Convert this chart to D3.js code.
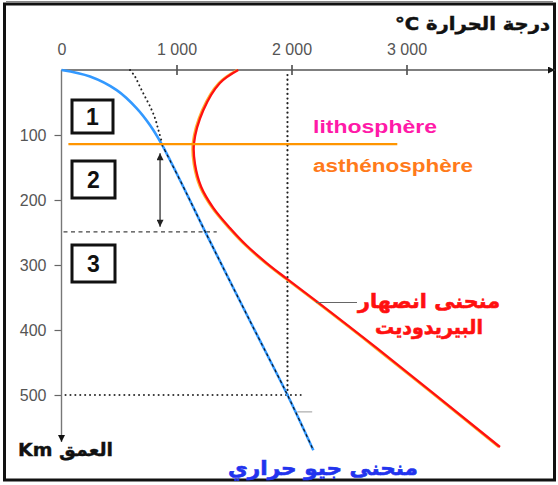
<!DOCTYPE html>
<html><head><meta charset="utf-8">
<script src="https://cdn.jsdelivr.net/npm/d3@7"></script>
<style>
html,body{margin:0;padding:0;background:#fff;}
svg{display:block;}
</style></head>
<body>
<svg id="chart" width="558" height="485"></svg>
<script>
// ---- data ----
const xTicks = [0, 1000, 2000, 3000];
const xTickLabels = ["0", "1 000", "2 000", "3 000"];
const yTicks = [100, 200, 300, 400, 500];
const yTickLabels = ["100", "200", "300", "400", "500"];

// geotherm (blue)
const geoTemp  = [0, 248, 480, 654, 770, 871, 1060, 1250, 1650, 1965, 2190];
const geoDepth = [0, 10, 31, 59, 85, 114, 180, 249, 390, 500, 585];
// dotted black curve (joins the geotherm)
const adiaTemp  = [596, 639, 683, 726, 770, 813, 842, 871];
const adiaDepth = [0, 10, 26, 41, 56, 74, 92, 110];
// peridotite solidus (red)
const solTemp  = [1537, 1378, 1233, 1152, 1161, 1215, 1320, 1465, 1610, 1784, 1958, 2219, 2743, 3813];
const solDepth = [0, 20, 62, 113, 145, 180, 212, 243, 270, 297, 321, 356, 428, 580];

const lithoDepth = 114;      // lithosphere / asthenosphere boundary
const lithoTempEnd = 2920;
const zoneDepth = 249;       // base of zone 2
const zoneTempEnd = 1350;
const arrowTemp = 857;
const arrowDepth = [128, 241];
const refTemp = 1965, refDepth = 500;

// ---- scales ----
const svg = d3.select("#chart");
const x = d3.scaleLinear().domain([0, 3000]).range([61.5, 406.5]);
const y = d3.scaleLinear().domain([0, 500]).range([70, 395]);

const defs = svg.append("defs");
defs.append("marker").attr("id","arrBlack").attr("viewBox","0 0 10 10")
  .attr("refX",10).attr("refY",5).attr("markerWidth",10).attr("markerHeight",7)
  .attr("markerUnits","userSpaceOnUse").attr("orient","auto")
  .append("path").attr("d","M0,0 L10,5 L0,10 z").attr("fill","#111");
defs.append("marker").attr("id","arrSmall").attr("viewBox","0 0 10 10")
  .attr("refX",10).attr("refY",5).attr("markerWidth",8).attr("markerHeight",7)
  .attr("markerUnits","userSpaceOnUse").attr("orient","auto-start-reverse")
  .append("path").attr("d","M0,0 L10,5 L0,10 z").attr("fill","#222");

// frame
svg.append("rect").attr("x",4.5).attr("y",4).attr("width",550).attr("height",476)
  .attr("fill","none").attr("stroke","#111").attr("stroke-width",3);
svg.append("line").attr("x1",6).attr("x2",553).attr("y1",1.5).attr("y2",1.5)
  .attr("stroke","#888").attr("stroke-width",1);

// reference dotted lines
svg.append("line").attr("x1",x(refTemp)).attr("x2",x(refTemp)).attr("y1",y(0)+5).attr("y2",y(refDepth))
  .attr("stroke","#222").attr("stroke-width",2.2).attr("stroke-dasharray","0.1,4.6").attr("stroke-linecap","round");
svg.append("line").attr("x1",x(0)+4).attr("x2",x(2080)).attr("y1",y(refDepth)).attr("y2",y(refDepth))
  .attr("stroke","#333").attr("stroke-width",2).attr("stroke-dasharray","0.1,4.8").attr("stroke-linecap","round");
svg.append("line").attr("x1",x(2050)).attr("x2",x(2180)).attr("y1",y(526)).attr("y2",y(526))
  .attr("stroke","#999").attr("stroke-width",1);

// x axis
const xAxis = d3.axisTop(x).tickValues(xTicks).tickFormat((d,i)=>xTickLabels[i]).tickSize(5).tickPadding(10);
const gx = svg.append("g").attr("transform",`translate(0,${y(0)})`).call(xAxis);
gx.select(".domain").remove();
gx.selectAll(".tick line").attr("y1",-5).attr("y2",5).attr("stroke","#333").attr("stroke-width",1.4);
gx.selectAll(".tick").filter(d=>d===0).select("line").remove();
gx.selectAll(".tick text").attr("font-family","Liberation Sans, Arial, sans-serif")
  .attr("font-size",16).attr("fill","#555");
svg.append("line").attr("x1",x(0)).attr("x2",555).attr("y1",y(0)).attr("y2",y(0))
  .attr("stroke","#555").attr("stroke-width",1.3).attr("marker-end","url(#arrBlack)");

// y axis
const yAxis = d3.axisLeft(y).tickValues(yTicks).tickFormat((d,i)=>yTickLabels[i]).tickSize(7).tickPadding(8);
const gy = svg.append("g").attr("transform",`translate(${x(0)},0)`).call(yAxis);
gy.select(".domain").remove();
gy.selectAll(".tick line").attr("stroke","#666").attr("stroke-width",1.2);
gy.selectAll(".tick text").attr("font-family","Liberation Sans, Arial, sans-serif")
  .attr("font-size",16).attr("fill","#555");
svg.append("line").attr("x1",x(0)).attr("x2",x(0)).attr("y1",y(0)).attr("y2",442)
  .attr("stroke","#777").attr("stroke-width",1.4).attr("marker-end","url(#arrBlack)");

// zone 2 base dashed line
svg.append("line").attr("x1",x(0)+2).attr("x2",x(zoneTempEnd)).attr("y1",y(zoneDepth)).attr("y2",y(zoneDepth))
  .attr("stroke","#444").attr("stroke-width",1.2).attr("stroke-dasharray","4,3.5");
// double arrow
svg.append("line").attr("x1",x(arrowTemp)).attr("x2",x(arrowTemp)).attr("y1",y(arrowDepth[0])).attr("y2",y(arrowDepth[1]))
  .attr("stroke","#333").attr("stroke-width",1.3)
  .attr("marker-start","url(#arrSmall)").attr("marker-end","url(#arrSmall)");

const line = d3.line().x(d=>x(d[0])).y(d=>y(d[1])).curve(d3.curveCatmullRom.alpha(0.5));

// solidus (red)
const solData = solTemp.map((t,i)=>[t, solDepth[i]]);
svg.append("path").datum(solData).attr("d",line).attr("fill","none")
  .attr("stroke","#ffb030").attr("stroke-width",2.4).attr("transform","translate(-1.2,0)");
svg.append("path").datum(solData).attr("d",line).attr("fill","none")
  .attr("stroke","#ff1010").attr("stroke-width",2.3);

// geotherm (blue)
const geoData = geoTemp.map((t,i)=>[t, geoDepth[i]]);
svg.append("path").datum(geoData).attr("d",line).attr("fill","none")
  .attr("stroke","#3399ff").attr("stroke-width",2.6);
// dotted curve + dashed continuation along geotherm
const adiaData = adiaTemp.map((t,i)=>[t, adiaDepth[i]]);
svg.append("path").datum(adiaData).attr("d",line).attr("fill","none")
  .attr("stroke","#222").attr("stroke-width",2).attr("stroke-dasharray","0.1,4.4").attr("stroke-linecap","round");
const geoLower = geoData.filter(d=>d[1]>=lithoDepth);
svg.append("path").datum(geoLower).attr("d",line).attr("fill","none")
  .attr("stroke","#111").attr("stroke-width",1.1).attr("stroke-dasharray","3,3");

// lithosphere boundary (orange)
svg.append("line").attr("x1",x(60)).attr("x2",x(lithoTempEnd)).attr("y1",y(lithoDepth)).attr("y2",y(lithoDepth))
  .attr("stroke","#ff9500").attr("stroke-width",2.4);

// numbered boxes
const boxes = [{n:"1",x:72,y:100,w:41,h:33},{n:"2",x:72,y:161,w:43,h:37},{n:"3",x:72,y:245,w:43,h:37}];
boxes.forEach(b=>{
  svg.append("rect").attr("x",b.x).attr("y",b.y).attr("width",b.w).attr("height",b.h)
    .attr("fill","#fff").attr("stroke","#111").attr("stroke-width",3);
  svg.append("text").attr("x",b.x+b.w/2).attr("y",b.y+b.h/2+8).attr("text-anchor","middle")
    .attr("font-family","Liberation Sans, Arial, sans-serif").attr("font-weight","bold")
    .attr("font-size",23).attr("fill","#111").text(b.n);
});

// labels
const T = (txt, xx, yy, opts) => {
  const t = svg.append("text").attr("x",xx).attr("y",yy)
    .attr("font-family", opts.ff || "Liberation Sans, Arial, sans-serif")
    .attr("font-weight", opts.fw || "bold").attr("font-size", opts.fs || 17)
    .attr("fill", opts.fill || "#111").attr("text-anchor", opts.anchor || "start").text(txt);
  if (opts.rtl) t.attr("direction","rtl").style("direction","rtl").style("unicode-bidi","embed");
  if (opts.len) t.attr("textLength",opts.len).attr("lengthAdjust","spacingAndGlyphs");
  if (opts.stroke) t.attr("stroke", opts.fill || "#111").attr("stroke-width", opts.stroke);
  return t;
};
T("lithosphère", 313, 133, {fill:"#ff1aa8", fs:18, len:124});
T("asthénosphère", 313, 172, {fill:"#ff7a1a", fs:18, len:160});
T("درجة الحرارة \u200E°C", 550, 30, {ff:"DejaVu Sans", fs:18, anchor:"start", rtl:true, len:155, stroke:0.5});
T("منحنى انصهار", 500, 308, {ff:"DejaVu Sans", fill:"#ff1010", fs:20, anchor:"start", rtl:true, len:142, stroke:0.6});
T("البيريدوديت", 483, 334, {ff:"DejaVu Sans", fill:"#ff1010", fs:20, anchor:"start", rtl:true, len:108, stroke:0.6});
T("منحنى جيو حراري", 418, 475, {ff:"DejaVu Sans", fill:"#2233ee", fs:20, anchor:"start", rtl:true, len:190, stroke:0.6});
T("العمق \u200EKm", 113, 456, {ff:"DejaVu Sans", fs:18, anchor:"start", rtl:true, len:95, stroke:0.4});
// leader line for solidus label
svg.append("line").attr("x1",316).attr("x2",357).attr("y1",302.5).attr("y2",302.5)
  .attr("stroke","#666").attr("stroke-width",1.2);
</script>
</body></html>
